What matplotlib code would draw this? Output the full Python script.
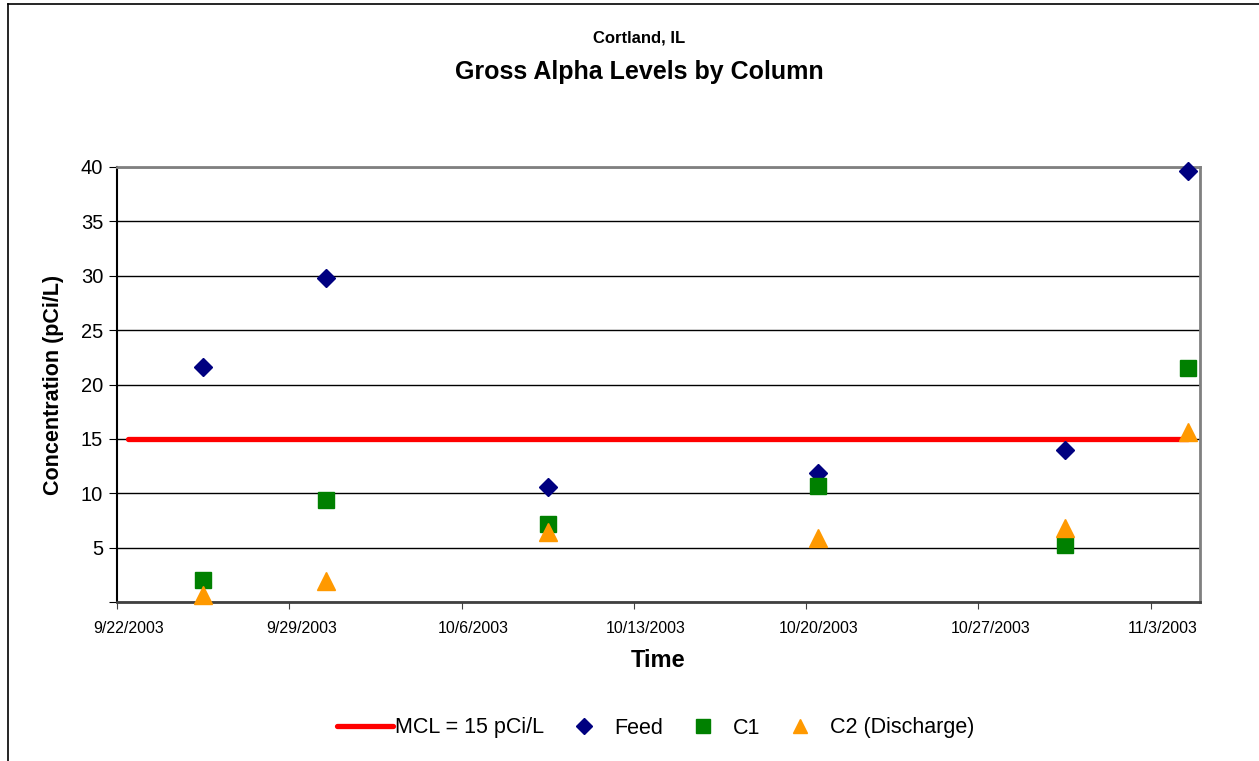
import datetime as dt
import matplotlib
matplotlib.use('Agg')
import matplotlib.pyplot as plt
import matplotlib.transforms as mtransforms
from matplotlib.lines import Line2D

plt.rcParams['font.family'] = ['Liberation Sans', 'DejaVu Sans']

# ---- data ----
sample_dates = [dt.datetime(2003, 9, 25, 12), dt.datetime(2003, 9, 30, 12),
                dt.datetime(2003, 10, 9, 12), dt.datetime(2003, 10, 20, 12),
                dt.datetime(2003, 10, 30, 12), dt.datetime(2003, 11, 4, 12)]
feed = [21.6, 29.8, 10.6, 11.9, 14.0, 39.6]
c1 = [2.0, 9.4, 7.2, 10.7, 5.2, 21.5]
c2 = [0.6, 1.9, 6.4, 5.9, 6.8, 15.6]
mcl_dates = [dt.datetime(2003, 9, 22, 11), dt.datetime(2003, 11, 4, 12)]
mcl = [15, 15]

x_start = dt.datetime(2003, 9, 22)
x_end = dt.datetime(2003, 11, 5)
y_ticks = [0, 5, 10, 15, 20, 25, 30, 35, 40]

fig = plt.figure(figsize=(12.59, 7.61), dpi=100)
ax = fig.add_axes([117 / 1259, 1 - 602 / 761, 1083 / 1259, 435 / 761])

ax.plot(mcl_dates, mcl, color='#FF0000', lw=3.8, solid_capstyle='round',
        label='MCL = 15 pCi/L', zorder=3)
ax.plot(sample_dates, feed, ls='none', marker='D', ms=9.5, color='#000080',
        label='Feed', zorder=4, clip_on=False)
ax.plot(sample_dates, c1, ls='none', marker='s', ms=12, color='#008000',
        label='C1', zorder=5, clip_on=False)
ax.plot(sample_dates, c2, ls='none', marker='^', ms=13, color='#FF9900',
        label='C2 (Discharge)', zorder=6, clip_on=False)

ax.set_xlim(x_start, x_end)
ax.set_ylim(0, 40)
ax.set_yticks(y_ticks)
ax.set_yticklabels(['' if v == 0 else str(v) for v in y_ticks], fontsize=14.5)
ax.yaxis.grid(True, color='black', lw=1)
ax.set_axisbelow(True)

ticks = [x_start + dt.timedelta(days=7 * i) for i in range(7)]
ax.set_xticks(ticks)
ax.set_xticklabels([f'{d.month}/{d.day}/{d.year}' for d in ticks], fontsize=11.5)
ax.tick_params(axis='x', length=5, pad=9, color='#404040')
ax.tick_params(axis='y', length=6, pad=4)
# Excel draws the date labels a little right of their ticks
shift = mtransforms.ScaledTranslation(12 / 100, 0, fig.dpi_scale_trans)
for lab in ax.get_xticklabels():
    lab.set_transform(lab.get_transform() + shift)

for side in ['top', 'right']:
    ax.spines[side].set_color('#808080')
    ax.spines[side].set_linewidth(2)
ax.spines['left'].set_color('black')
ax.spines['bottom'].set_color('#404040')
ax.spines['left'].set_linewidth(1.5)
ax.spines['bottom'].set_linewidth(2)

ax.set_ylabel('Concentration (pCi/L)', fontsize=15.5, fontweight='bold', labelpad=12)
ax.set_xlabel('Time', fontsize=17, fontweight='bold', labelpad=9)

fig.text(0.508, 1 - 38 / 761, 'Cortland, IL', ha='center', va='center',
         fontsize=12, fontweight='bold')
fig.text(0.508, 1 - 72 / 761, 'Gross Alpha Levels by Column', ha='center',
         va='center', fontsize=18, fontweight='bold')

handles, labels = ax.get_legend_handles_labels()
handles[1] = Line2D([], [], ls='none', marker='D', ms=8.5, color='#000080')
handles[2] = Line2D([], [], ls='none', marker='s', ms=9.5, color='#008000')
handles[3] = Line2D([], [], ls='none', marker='^', ms=10, color='#FF9900')
fig.legend(handles, labels, loc='center', bbox_to_anchor=(0.521, 1 - 728 / 761),
           ncol=4, frameon=False, fontsize=15.5, handlelength=2.6,
           handletextpad=0.1, columnspacing=0.55)

# outer chart border
fig.add_artist(Line2D([8 / 1259, 1], [1 - 4 / 761] * 2, transform=fig.transFigure,
                      color='black', lw=1.2))
fig.add_artist(Line2D([8 / 1259] * 2, [0, 1 - 4 / 761], transform=fig.transFigure,
                      color='black', lw=1.2))

fig.savefig('out.png', dpi=100)
